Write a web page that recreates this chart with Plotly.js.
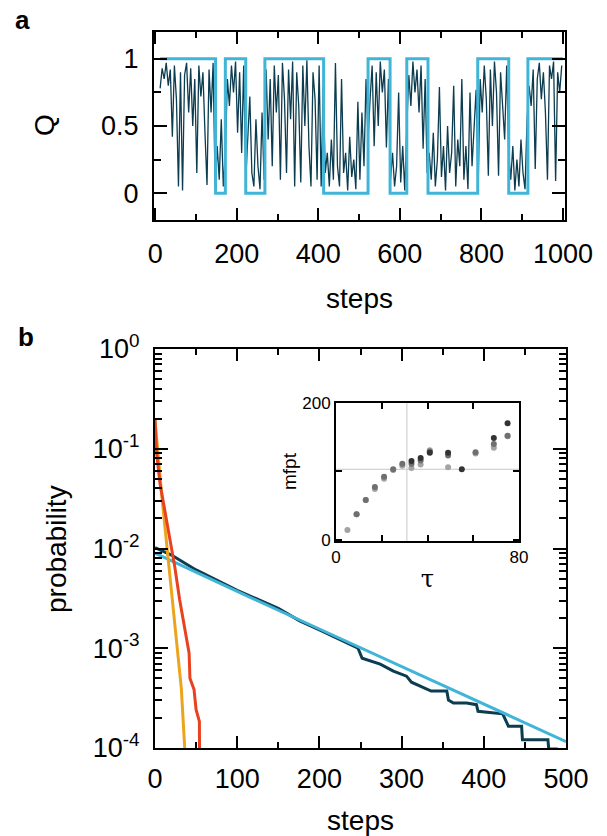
<!DOCTYPE html>
<html><head><meta charset="utf-8">
<script src="https://cdn.plot.ly/plotly-3.0.1.min.js"></script>
<style>html,body{margin:0;padding:0;background:#fff;} #chart{width:607px;height:836px;}</style>
</head><body><div id="chart"></div>
<script>
// ---------- Panel a: Q trajectory ----------
const qStart = 12, qStep = 5;
const qValues = [
 0.78,0.93,0.85,0.97,0.8,0.92,0.42,0.95,0.7,0.05,0.9,0.02,0.88,0.97,0.6,0.93,0.5,0.85,0.15,0.95,0.72,0.9,0.45,0.06,0.92,0.6,0.97,0.04,
 0.35,0.1,0.55,0.05,0.3,
 0.85,0.65,0.95,0.75,0.98,0.45,0.9,0.3,0.95,0.1,
 0.45,0.72,0.15,0.05,0.55,0.2,0.03,0.6,0.1,
 0.92,0.4,0.85,0.2,0.95,0.6,0.88,0.1,0.97,0.7,0.15,0.92,0.55,0.98,0.05,0.9,0.65,0.08,0.95,0.5,0.99,0.35,0.05,0.9,0.7,0.1,0.95,0.05,0.8,
 0.15,0.3,0.05,0.4,0.1,0.97,0.2,0.05,0.85,0.15,0.3,0.02,0.42,0.12,0.25,0.03,0.68,0.1,0.6,0.2,0.85,0.4,
 0.7,0.95,0.35,0.9,0.5,0.98,0.75,0.92,0.34,0.85,0.1,
 0.3,0.05,0.2,0.75,0.08,0.35,0.02,0.5,
 0.88,0.65,0.98,0.75,0.92,0.6,0.95,0.33,0.85,0.15,
 0.3,0.1,0.45,0.05,0.25,0.79,0.12,0.35,0.02,0.5,0.15,0.3,0.8,0.05,0.4,0.2,0.85,0.1,0.35,0.03,0.75,0.2,0.45,0.77,0.05,
 0.85,0.6,0.95,0.7,0.13,0.92,0.5,0.98,0.75,0.13,0.9,0.65,0.4,0.95,0.3,
 0.1,0.35,0.02,0.25,0.05,0.4,0.15,0.03,0.55,
 0.8,0.65,0.92,0.18,0.85,0.97,0.7,0.9,0.6,0.1,0.95,0.85,0.98,0.09,0.9,0.75,0.95
];
const qSteps = qValues.map((_, i) => qStart + i * qStep);
const stateSwitchSteps = [12,148,172,222,269,413,522,576,617,669,791,867,914,1000];
const stateValues      = [1,0,1,0,1,0,1,0,1,0,1,0,1,1];

// ---------- Panel b: first-passage distributions ----------
const survSteps = [0,20,50,100,150,176,200,217,240,247,252,263,274,290,306,312,320,330,336,355,357,363,379,391,393,423,426,430,446,447,478,479,490];
const survProb  = [0.0102,0.0086,0.0061,0.0038,0.00251,0.00188,0.00153,0.00132,0.00107,0.00100,0.000794,0.000741,0.000692,0.000589,0.000525,0.000457,0.000427,0.000398,0.000372,0.000372,0.000302,0.000282,0.000282,0.000272,0.000233,0.000220,0.000192,0.000165,0.000165,0.000121,0.000121,0.0000977,0.0000977];
const fitSteps = [0,100,200,300,400,500];
const fitProb  = [0.0090,0.00371,0.00156,0.000656,0.000276,0.000116];
const redSteps = [0,2,6,12,18,24,30,36,41.5,42.5,47.5,50,54,54.2];
const redProb  = [0.195,0.0904,0.0454,0.0245,0.01324,0.00661,0.00307,0.00153,0.000891,0.000501,0.000385,0.000242,0.000185,0.0000891];
const orangeSteps = [0,8,16,24,32,36.5];
const orangeProb  = [0.195,0.0355,0.0079,0.00178,0.000398,0.0000891];

// ---------- Inset: mfpt vs tau ----------
const tauDark  = [33,37,41,49,55,69,75];
const mfptDark = [115,119.5,127,127,103,148.6,170.4];
const tauMid   = [9,13,17,21,25,29,33,37,41,49,61,69,75];
const mfptMid  = [37,58,77,92,103,111,111,116,129,123,128,140,152];
const tauLight = [5,9,13,17,21,25,29,33,37,41,49,61,69,75];
const mfptLight= [14,37,58,74,89,102,108,105,110,131,106,126,134.5,151.5];
const refTau = 31, refMfpt = 103;

// ---------- Tick labels ----------
const aXTicks = [0,200,400,600,800,1000];
const aXMinor = [100,300,500,700,900];
const aYTicks = [0,0.5,1];
const aYLabels = ['0','0.5','1'];
const aYMinor = [0.25,0.75];
const bXTicks = [0,100,200,300,400,500];
const bXMinor = [50,150,250,350,450];
const bYTicks = [1e-4,1e-3,1e-2,1e-1,1];
const bYLabels = ['10<sup>-4</sup>','10<sup>-3</sup>','10<sup>-2</sup>','10<sup>-1</sup>','10<sup>0</sup>'];
const bYMinorMult = [2,3,4,5,6,7,8,9];
const bYMinor = [];
[1e-4,1e-3,1e-2,1e-1].forEach(d => bYMinorMult.forEach(m => bYMinor.push(d*m)));
const inXTicks = [0,80], inXMinor = [20,40,60];
const inYTicks = [0,200], inYMinor = [100];

const FONT = 'Liberation Sans, Arial, sans-serif';
const NAVY = '#0b3c4f', BLUE = '#41b5d7', RED = '#e8421f', ORANGE = '#eba41c';

const traces = [
  {x: qSteps, y: qValues, xaxis:'x', yaxis:'y', mode:'lines', line:{color:NAVY, width:1.3}},
  {x: stateSwitchSteps, y: stateValues, xaxis:'x', yaxis:'y', mode:'lines', line:{color:BLUE, width:3, shape:'hv'}},
  {x: survSteps, y: survProb, xaxis:'x2', yaxis:'y2', mode:'lines', line:{color:NAVY, width:3}},
  {x: fitSteps, y: fitProb, xaxis:'x2', yaxis:'y2', mode:'lines', line:{color:BLUE, width:3}},
  {x: orangeSteps, y: orangeProb, xaxis:'x2', yaxis:'y2', mode:'lines', line:{color:ORANGE, width:3}},
  {x: redSteps, y: redProb, xaxis:'x2', yaxis:'y2', mode:'lines', line:{color:RED, width:3}},
  {x: tauLight, y: mfptLight, xaxis:'x3', yaxis:'y3', mode:'markers', marker:{color:'#a3a3a3', size:6}},
  {x: tauMid, y: mfptMid, xaxis:'x3', yaxis:'y3', mode:'markers', marker:{color:'#6f6f6f', size:6}},
  {x: tauDark, y: mfptDark, xaxis:'x3', yaxis:'y3', mode:'markers', marker:{color:'#333333', size:6}}
];

const W = 607, H = 836;
const px = v => v / W, py = v => 1 - v / H;

function baseAxis(extra) {
  return Object.assign({
    showline:true, linecolor:'#000', linewidth:2, mirror:'allticks',
    ticks:'inside', tickcolor:'#000', tickwidth:2, showgrid:false, zeroline:false,
    tickfont:{family:FONT, size:27, color:'#000'}, fixedrange:true
  }, extra);
}
function minorTicks(vals, len) {
  return {tickmode:'array', tickvals:vals, ticklen:len, tickwidth:2, ticks:'inside', tickcolor:'#000', showgrid:false};
}
function label(text, x, y, size, angle, bold, family) {
  return {text: bold ? '<b>' + text + '</b>' : text, xref:'paper', yref:'paper', x:px(x), y:py(y),
    xanchor:'center', yanchor:'middle', showarrow:false, textangle:angle || 0,
    font:{size:size, family:family || FONT, color:'#000'}};
}

const layout = {
  width: W, height: H, margin:{l:0,r:0,t:0,b:0},
  paper_bgcolor:'#fff', plot_bgcolor:'rgba(0,0,0,0)', showlegend:false,
  font:{family:FONT, color:'#000'},
  xaxis: baseAxis({domain:[px(154),px(565)], anchor:'y', range:[-3,1005],
    tickmode:'array', tickvals:aXTicks, ticklen:12, minor:minorTicks(aXMinor, 6),
    ticklabelstandoff:9,
    title:{text:'steps', font:{size:28, family:FONT}, standoff:20}}),
  yaxis: baseAxis({domain:[py(220),py(32)], anchor:'x', range:[-0.2,1.2],
    tickmode:'array', tickvals:aYTicks, ticktext:aYLabels, ticklen:13, minor:minorTicks(aYMinor, 7),
    ticklabelstandoff:8}),
  xaxis2: baseAxis({domain:[px(155),px(566)], anchor:'y2', range:[0,500],
    tickmode:'array', tickvals:bXTicks, ticklen:12, minor:minorTicks(bXMinor, 6),
    ticklabelstandoff:6,
    title:{text:'steps', font:{size:28, family:FONT}, standoff:20}}),
  yaxis2: baseAxis({domain:[py(748),py(349)], anchor:'x2', type:'log', range:[-4,0],
    tickmode:'array', tickvals:bYTicks, ticktext:bYLabels, ticklen:13, minor:minorTicks(bYMinor, 7),
    ticklabelstandoff:8}),
  xaxis3: baseAxis({domain:[px(336),px(519)], anchor:'y3', range:[0,80],
    tickmode:'array', tickvals:inXTicks, ticklen:6, minor:minorTicks(inXMinor, 6),
    tickfont:{family:FONT, size:17, color:'#000'},
    title:{text:'τ', font:{size:24, family:'DejaVu Serif, serif'}, standoff:4}}),
  yaxis3: baseAxis({domain:[py(541),py(403)], anchor:'x3', range:[-2,200],
    tickmode:'array', tickvals:inYTicks, ticklen:6, minor:minorTicks(inYMinor, 6),
    tickfont:{family:FONT, size:17, color:'#000'}}),
  shapes: [
    {type:'line', xref:'x3', yref:'y3 domain', x0:refTau, x1:refTau, y0:0, y1:1, line:{color:'#c8c8c8', width:1}, layer:'below'},
    {type:'line', xref:'x3 domain', yref:'y3', x0:0, x1:1, y0:refMfpt, y1:refMfpt, line:{color:'#c8c8c8', width:1}, layer:'below'}
  ],
  annotations: [
    label('a', 22, 20, 26, 0, true),
    label('b', 26, 337, 26, 0, true),
    label('Q', 44, 125, 28, -90),
    label('probability', 56, 549, 28, -90),
    label('mfpt', 289, 471, 19, -90)
  ]
};

Plotly.newPlot('chart', traces, layout, {staticPlot:true, displayModeBar:false});
</script>
</body></html>
